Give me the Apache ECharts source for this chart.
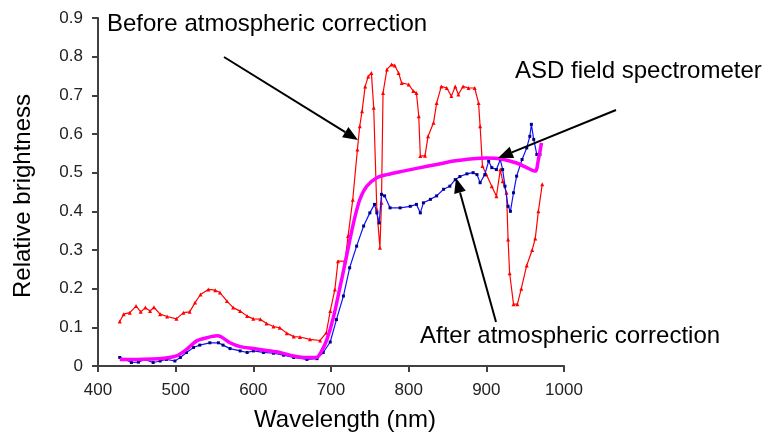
<!DOCTYPE html>
<html>
<head>
<meta charset="utf-8">
<script src="https://cdn.jsdelivr.net/npm/echarts@6/dist/echarts.min.js"></script>
<style>
html,body{margin:0;padding:0;background:#fff;}
#c{width:764px;height:437px;}
</style>
</head>
<body>
<div id="c"></div>
<script>
// ---- Data ----
const beforeWl = [428,433,441,449,455,461,467,472,480,489,501,510,518,525,532,542,551,557,566,574,583,592,600,609,617,626,634,643,652,660,673,686,694,699,705,709,718,722,728,734,737,740,744,748,752,755,759,763,765,767,772,778,782,787,791,800,806,810,813,815,821,825,832,836,842,849,855,860,864,870,877,885,890,892,895,900,907,913,918,921,926,928,930,935,940,945,952,959,963,967,972];
const beforeVal = [0.115,0.134,0.138,0.155,0.140,0.151,0.142,0.152,0.134,0.128,0.122,0.138,0.140,0.164,0.185,0.198,0.196,0.190,0.168,0.151,0.142,0.129,0.122,0.121,0.110,0.102,0.099,0.085,0.076,0.075,0.069,0.066,0.086,0.142,0.198,0.271,0.271,0.336,0.43,0.56,0.62,0.659,0.723,0.749,0.758,0.668,0.405,0.306,0.422,0.706,0.767,0.780,0.777,0.758,0.732,0.728,0.711,0.706,0.646,0.543,0.544,0.594,0.629,0.680,0.723,0.719,0.698,0.723,0.702,0.723,0.719,0.719,0.680,0.620,0.517,0.495,0.465,0.439,0.508,0.478,0.448,0.327,0.24,0.16,0.16,0.20,0.26,0.30,0.33,0.40,0.47];

const afterWl = [428,435,443,452,460,471,480,488,499,506,514,523,531,544,555,561,570,583,592,600,613,626,639,652,669,682,690,699,707,716,724,733,742,750,756,759,762,765,769,776,789,802,810,815,819,828,836,845,853,860,866,875,883,888,892,898,903,907,913,918,921,924,928,931,935,939,946,952,956,958,961,965,969];
const afterVal = [0.022,0.017,0.009,0.010,0.017,0.009,0.013,0.017,0.013,0.022,0.035,0.048,0.054,0.060,0.060,0.054,0.045,0.039,0.035,0.039,0.035,0.033,0.028,0.022,0.017,0.019,0.035,0.062,0.120,0.181,0.254,0.310,0.362,0.396,0.418,0.396,0.370,0.444,0.440,0.409,0.409,0.413,0.418,0.396,0.422,0.431,0.440,0.457,0.465,0.482,0.490,0.497,0.500,0.495,0.474,0.495,0.530,0.513,0.508,0.534,0.508,0.465,0.413,0.400,0.448,0.491,0.534,0.564,0.594,0.625,0.586,0.547,0.547];

const asdWl = [428,450,470,484,501,514,527,540,553,559,570,583,600,617,634,652,669,681,688,695,703,711,720,729,737,746,759,772,793,815,836,858,883,900,918,939,952,963,967,971];
const asdVal = [0.017,0.017,0.018,0.020,0.026,0.043,0.065,0.073,0.078,0.075,0.060,0.050,0.045,0.040,0.035,0.026,0.022,0.022,0.039,0.070,0.125,0.198,0.284,0.370,0.430,0.465,0.487,0.495,0.504,0.513,0.521,0.530,0.536,0.538,0.536,0.525,0.513,0.504,0.534,0.577];

const xTicks = {min:400, max:1000, step:100};
const yTicks = {min:0, max:0.9, step:0.1};
const labels = {
  before: 'Before atmospheric correction',
  asd: 'ASD field spectrometer',
  after: 'After atmospheric correction',
  xName: 'Wavelength (nm)',
  yName: 'Relative brightness'
};

function pairs(xs, ys){ return xs.map((x,i)=>[x, ys[i]]); }

const FONT = "'Liberation Sans', Arial, sans-serif";

function arrow(x1,y1,x2,y2){
  const ang = Math.atan2(y2-y1, x2-x1);
  const L = 15, W = 6;
  const bx = x2 - L*Math.cos(ang), by = y2 - L*Math.sin(ang);
  const px = -Math.sin(ang)*W, py = Math.cos(ang)*W;
  return [
    {type:'line', shape:{x1:x1,y1:y1,x2:bx,y2:by}, style:{stroke:'#000', lineWidth:2}, z:100},
    {type:'polygon', shape:{points:[[x2,y2],[bx+px,by+py],[bx-px,by-py]]}, style:{fill:'#000'}, z:100}
  ];
}

const chart = echarts.init(document.getElementById('c'), null, {renderer:'canvas'});
chart.setOption({
  animation:false,
  backgroundColor:'#fff',
  grid:{left:98, top:18, width:466, height:349, containLabel:false},
  xAxis:{
    type:'value', min:xTicks.min, max:xTicks.max, interval:xTicks.step,
    name:labels.xName, nameLocation:'middle', nameGap:42,
    nameTextStyle:{fontFamily:FONT, fontSize:24, color:'#000', padding:[0,0,0,28]},
    axisLine:{show:true, onZero:false, lineStyle:{color:'#404040', width:2}},
    axisTick:{show:true, inside:false, length:6, lineStyle:{color:'#404040', width:2}},
    axisLabel:{fontFamily:FONT, fontSize:17, color:'#222', margin:16, formatter:function(v){return String(v);}},
    splitLine:{show:false}
  },
  yAxis:{
    type:'value', min:yTicks.min, max:yTicks.max, interval:yTicks.step,
    name:labels.yName, nameLocation:'middle', nameRotate:90, nameGap:63,
    nameTextStyle:{fontFamily:FONT, fontSize:24, color:'#000', padding:[0,8,0,0]},
    axisLine:{show:true, lineStyle:{color:'#404040', width:2}},
    axisTick:{show:true, inside:false, length:6, lineStyle:{color:'#404040', width:2}},
    axisLabel:{fontFamily:FONT, fontSize:17, color:'#222', margin:15},
    splitLine:{show:false}
  },
  series:[
    {
      name:labels.before, type:'line', data:pairs(beforeWl, beforeVal),
      showSymbol:true, symbol:'triangle', symbolSize:4,
      lineStyle:{color:'#ff0000', width:1.2}, itemStyle:{color:'#ff0000'}, z:3
    },
    {
      name:labels.after, type:'line', data:pairs(afterWl, afterVal),
      showSymbol:true, symbol:'rect', symbolSize:3,
      lineStyle:{color:'#1010ff', width:1.2}, itemStyle:{color:'#000080'}, z:4
    },
    {
      name:labels.asd, type:'line', data:pairs(asdWl, asdVal), smooth:0.3,
      showSymbol:false,
      lineStyle:{color:'#ff00ff', width:3.5}, itemStyle:{color:'#ff00ff'}, z:5
    }
  ],
  graphic:[
    {type:'text', left:107, top:12, style:{text:labels.before, font:"24px "+FONT, fill:'#000'}, z:100},
    {type:'text', left:515, top:59, style:{text:labels.asd, font:"24px "+FONT, fill:'#000'}, z:100},
    {type:'text', left:420, top:324, style:{text:labels.after, font:"24px "+FONT, fill:'#000'}, z:100}
  ].concat(arrow(224,57,358,140), arrow(616,110,498,158), arrow(496,322,456,178))
});
</script>
</body>
</html>
